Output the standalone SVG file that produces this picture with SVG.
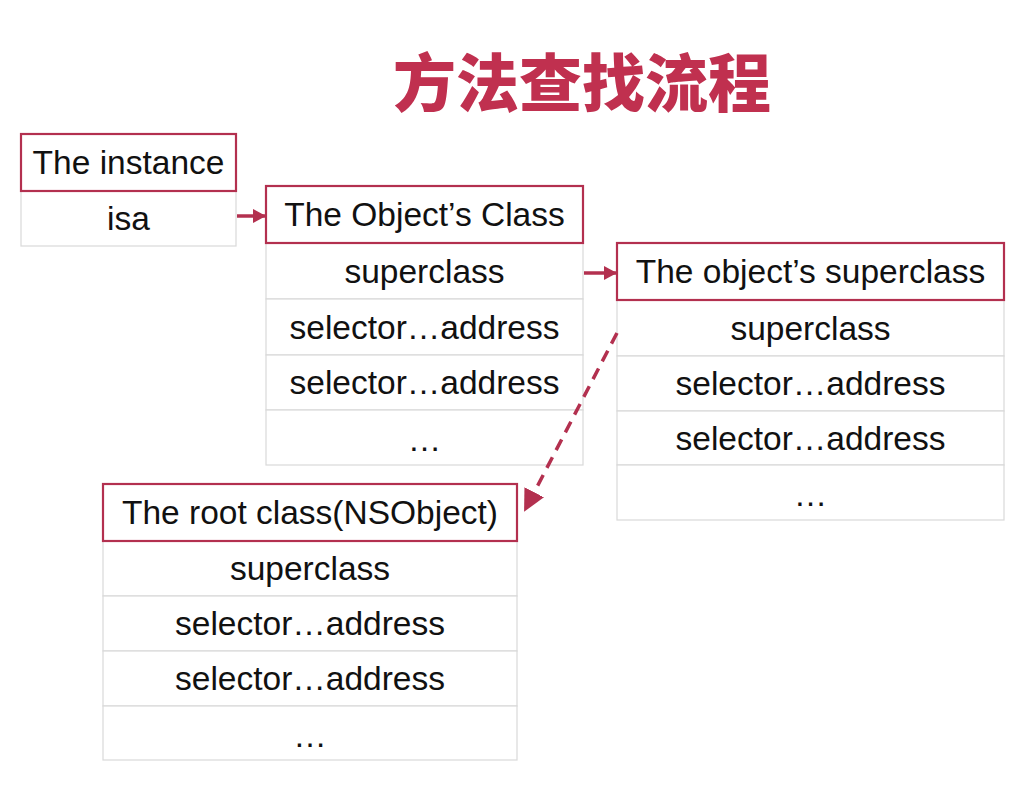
<svg xmlns="http://www.w3.org/2000/svg" width="1018" height="786" viewBox="0 0 1018 786">
<defs>
<style>
.hdr{fill:#fff;stroke:#b3304f;stroke-width:2.2}
.row{fill:#fff;stroke:#d9d9d9;stroke-width:1.2}
.t{font-family:"Liberation Sans",Arial,sans-serif;font-size:33.5px;fill:#111;text-anchor:middle}
.title{font-family:"Noto Sans CJK SC","Noto Sans CJK JP",sans-serif;font-weight:900;font-size:63px;fill:#c0304f;text-anchor:middle}
.conn{stroke:#b3304f;stroke-width:3.5;fill:none}
</style>
<marker id="ah" markerWidth="13" markerHeight="14" refX="12" refY="7" orient="auto" markerUnits="userSpaceOnUse" viewBox="0 0 13 14">
<path d="M0,0 L13,7 L0,14 z" fill="#b3304f"/>
</marker>
<marker id="ah2" markerWidth="22" markerHeight="22" refX="20" refY="11" orient="auto" markerUnits="userSpaceOnUse" viewBox="0 0 22 22">
<path d="M0,0 L22,11 L0,22 z" fill="#b3304f"/>
</marker>
</defs>
<rect width="1018" height="786" fill="#fff"/>
<text class="title" x="582" y="106">方法查找流程</text>

<g id="instance">
<rect class="row" x="21" y="191" width="215" height="55"/>
<rect class="hdr" x="21" y="134" width="215" height="57"/>
<text class="t" x="128.5" y="174">The instance</text>
<text class="t" x="128.5" y="230">isa</text>
</g>

<g id="objectClass">
<rect class="row" x="266" y="243" width="317" height="56"/>
<rect class="row" x="266" y="299" width="317" height="56"/>
<rect class="row" x="266" y="355" width="317" height="55"/>
<rect class="row" x="266" y="410" width="317" height="55"/>
<rect class="hdr" x="266" y="186" width="317" height="57"/>
<text class="t" x="424.5" y="226">The Object’s Class</text>
<text class="t" x="424.5" y="283">superclass</text>
<text class="t" x="424.5" y="339">selector…address</text>
<text class="t" x="424.5" y="394">selector…address</text>
<text class="t" x="424.5" y="451">…</text>
</g>

<g id="objectSuperclass">
<rect class="row" x="617" y="300" width="387" height="56"/>
<rect class="row" x="617" y="356" width="387" height="55"/>
<rect class="row" x="617" y="411" width="387" height="54"/>
<rect class="row" x="617" y="465" width="387" height="55"/>
<rect class="hdr" x="617" y="243" width="387" height="57"/>
<text class="t" x="810.5" y="283">The object’s superclass</text>
<text class="t" x="810.5" y="340">superclass</text>
<text class="t" x="810.5" y="395">selector…address</text>
<text class="t" x="810.5" y="450">selector…address</text>
<text class="t" x="810.5" y="506">…</text>
</g>

<g id="rootClass">
<rect class="row" x="103" y="541" width="414" height="55"/>
<rect class="row" x="103" y="596" width="414" height="55"/>
<rect class="row" x="103" y="651" width="414" height="55"/>
<rect class="row" x="103" y="706" width="414" height="54"/>
<rect class="hdr" x="103" y="484" width="414" height="57"/>
<text class="t" x="310" y="524">The root class(NSObject)</text>
<text class="t" x="310" y="580">superclass</text>
<text class="t" x="310" y="635">selector…address</text>
<text class="t" x="310" y="690">selector…address</text>
<text class="t" x="310" y="747">…</text>
</g>

<g id="connectors">
<line class="conn" x1="237" y1="216" x2="265" y2="216" marker-end="url(#ah)"/>
<line class="conn" x1="584" y1="273" x2="616" y2="273" marker-end="url(#ah)"/>
<line class="conn" x1="617" y1="333" x2="525" y2="510" stroke-width="5" stroke-dasharray="12 8" marker-end="url(#ah2)"/>
</g>
</svg>
